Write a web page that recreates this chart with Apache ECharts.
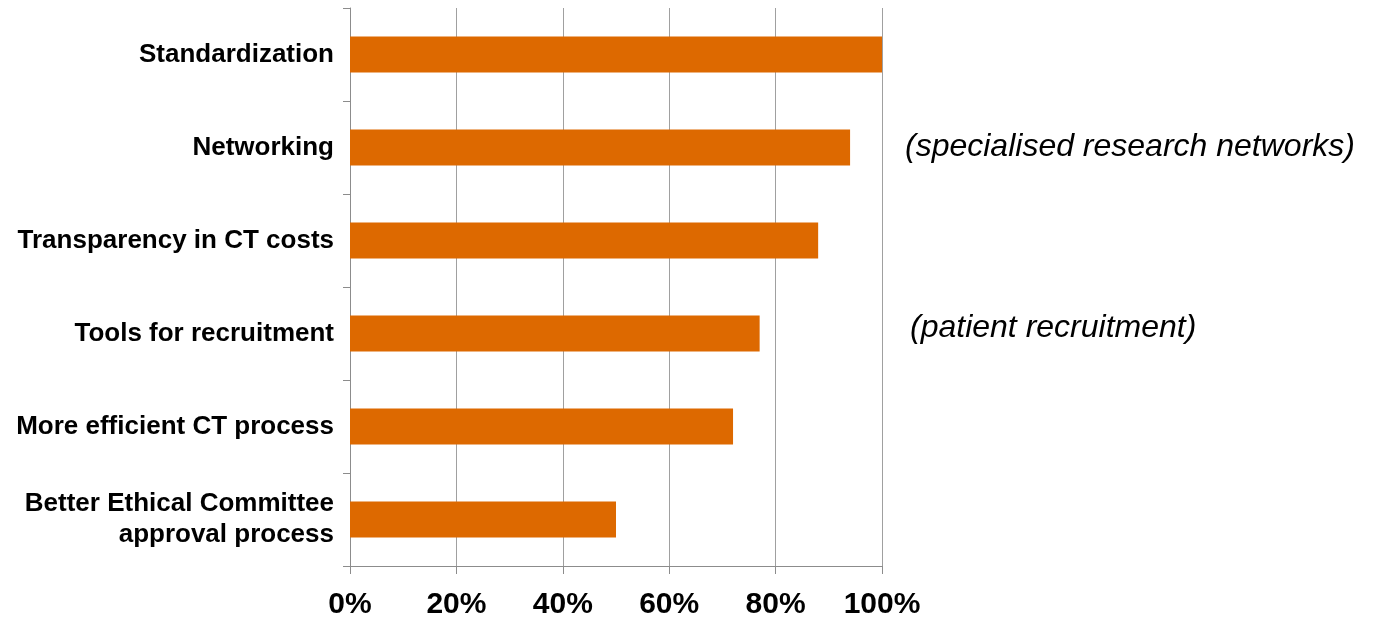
<!DOCTYPE html>
<html><head><meta charset="utf-8">
<script src="https://cdn.jsdelivr.net/npm/echarts@6/dist/echarts.min.js"></script>
<style>html,body{margin:0;padding:0;background:#fff}#c{width:1373px;height:620px}</style>
</head><body><div id="c"></div>
<script>
const categories = ["Standardization","Networking","Transparency in CT costs","Tools for recruitment","More efficient CT process","Better Ethical Committee\napproval process"];
const values = [100, 94, 88, 77, 72, 50];
const xTicks = [0, 20, 40, 60, 80, 100];
const notes = [{text:"(specialised research networks)", cat:1, x:905, dy:0}, {text:"(patient recruitment)", cat:3, x:910, dy:-5}];

const chart = echarts.init(document.getElementById('c'));
chart.setOption({
  animation:false,
  grid:{left:350, right:491, top:8, bottom:52, containLabel:false},
  xAxis:{type:'value', min:0, max:100, interval:20,
    axisLine:{show:true, lineStyle:{color:'#8c8c8c'}},
    axisTick:{show:true, length:8, lineStyle:{color:'#8c8c8c'}},
    splitLine:{show:true, lineStyle:{color:'#a0a0a0'}},
    axisLabel:{formatter:v=>xTicks.includes(v)?v+'%':'', margin:24, color:'#000', fontSize:30, fontWeight:'bold', fontFamily:'"Liberation Sans Narrow","Arial Narrow",sans-serif'}
  },
  yAxis:{type:'category', data:categories, inverse:true,
    axisLine:{show:true, lineStyle:{color:'#8c8c8c'}},
    axisTick:{show:true, length:7, lineStyle:{color:'#8c8c8c'}},
    axisLabel:{margin:16, color:'#000', fontSize:26, fontWeight:'bold', fontFamily:'"Liberation Sans",Arial,sans-serif', lineHeight:31, align:'right'}
  },
  series:[{type:'bar', data:values, barWidth:36, itemStyle:{color:'#dd6900'}, silent:true}]
});
const g = [];
notes.forEach(n=>{
  const p = chart.convertToPixel({gridIndex:0},[0, n.cat]);
  g.push({type:'text', x:n.x, y:p[1]+n.dy, style:{text:n.text, fontSize:32, fontStyle:'italic', fontFamily:'"Liberation Sans",Arial,sans-serif', fill:'#000', verticalAlign:'middle', align:'left'}});
});
chart.setOption({graphic:g});
</script></body></html>
